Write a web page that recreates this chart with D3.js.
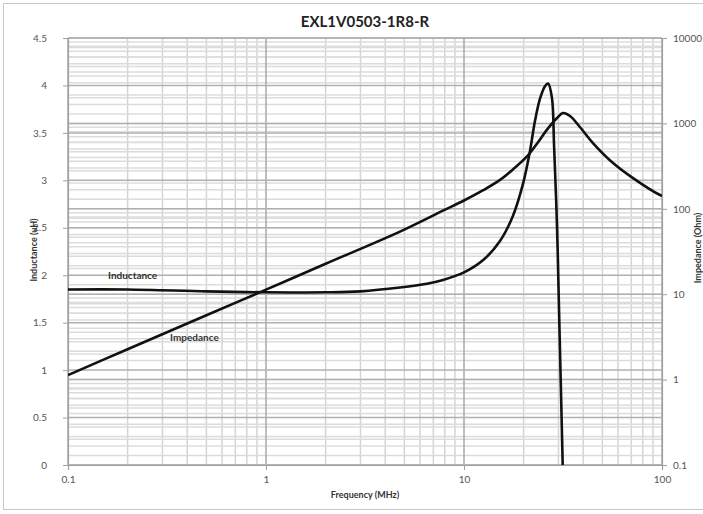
<!DOCTYPE html>
<html><head><meta charset="utf-8">
<script src="https://cdn.jsdelivr.net/npm/d3@7"></script>
<style>body{margin:0;background:#fff}svg{display:block}text{font-family:Lato,"Open Sans",sans-serif}</style>
</head><body>
<svg id="c" width="703" height="514"></svg>
<script>
const title = "EXL1V0503-1R8-R";
const xTicks = [0.1, 1, 10, 100];
const leftTicks = [0, 0.5, 1, 1.5, 2, 2.5, 3, 3.5, 4, 4.5];
const rightTicks = [0.1, 1, 10, 100, 1000, 10000];
// Inductance (uH) vs frequency (MHz)
const indFreq = [0.1, 0.2, 0.5, 1, 2, 3, 4.75, 6.5, 7.83, 10, 12.5, 15.2, 17.7, 19.9, 21.5, 22.8, 24.2, 25.6, 26.6, 27.8, 28.5, 29.5, 30.2, 31.6];
const indVal  = [1.85, 1.85, 1.83, 1.82, 1.82, 1.83, 1.87, 1.91, 1.95, 2.03, 2.16, 2.36, 2.63, 2.97, 3.3, 3.62, 3.86, 3.99, 4.02, 3.87, 3.37, 2.51, 1.63, -0.1];
// Impedance (Ohm) vs frequency (MHz)
const impFreq = [0.1, 0.2, 0.5, 1, 2, 4.75, 7.83, 10, 12.5, 15.2, 17.7, 20.8, 23.5, 26.2, 29.5, 31.6, 34.3, 38.5, 44.8, 56.6, 71.4, 97.7, 100];
const impVal  = [1.13, 2.27, 5.67, 11.3, 22.7, 54, 95, 125, 165, 218, 290, 410, 590, 840, 1157, 1323, 1222, 907, 589, 344, 229, 145, 142];
const indLabel = "Inductance", impLabel = "Impedance";

const svg = d3.select("#c");
const L = 68, R = 662, T = 38, B = 465;
const x = d3.scaleLog().domain([0.1, 100]).range([L, R]);
const yL = d3.scaleLinear().domain([0, 4.5]).range([B, T]);
const yR = d3.scaleLog().domain([0.1, 10000]).range([B, T]);

svg.append("rect").attr("x", 3.5).attr("y", 3.5).attr("width", 710).attr("height", 506)
  .attr("fill", "none").attr("stroke", "#c8c8c8");

const g = svg.append("g");
const minorX = [];
for (let d = 0.1; d < 100; d *= 10) for (let k = 2; k <= 9; k++) minorX.push(d * k);
g.selectAll(".vx").data(minorX).join("line")
  .attr("x1", d => x(d)).attr("x2", d => x(d)).attr("y1", T).attr("y2", B)
  .attr("stroke", "#d4d4d4").attr("stroke-width", 1.5);
const minorYL = d3.range(0, 46).map(i => i / 10).filter(v => Math.abs(v * 2 - Math.round(v * 2)) > 1e-6);
g.selectAll(".hl").data(minorYL).join("line")
  .attr("x1", L).attr("x2", R).attr("y1", d => yL(d)).attr("y2", d => yL(d))
  .attr("stroke", "#dcdcdc").attr("stroke-width", 1.5);
const minorYR = [];
for (let d = 0.1; d < 10000; d *= 10) for (let k = 2; k <= 9; k++) minorYR.push(d * k);
g.selectAll(".hr").data(minorYR).join("line")
  .attr("x1", L).attr("x2", R).attr("y1", d => yR(d)).attr("y2", d => yR(d))
  .attr("stroke", "#dcdcdc").attr("stroke-width", 1.5);
g.selectAll(".mx").data(xTicks).join("line")
  .attr("x1", d => x(d)).attr("x2", d => x(d)).attr("y1", T).attr("y2", B)
  .attr("stroke", "#a8a8a8").attr("stroke-width", 1.5);
g.selectAll(".ml").data(leftTicks).join("line")
  .attr("x1", L).attr("x2", R).attr("y1", d => yL(d)).attr("y2", d => yL(d))
  .attr("stroke", "#b0b0b0").attr("stroke-width", 1.5);
g.selectAll(".mr").data(rightTicks).join("line")
  .attr("x1", L).attr("x2", R).attr("y1", d => yR(d)).attr("y2", d => yR(d))
  .attr("stroke", "#b0b0b0").attr("stroke-width", 1.5);

const fmt = d => String(d);
const axL = svg.append("g").attr("transform", `translate(${L},0)`)
  .call(d3.axisLeft(yL).tickValues(leftTicks).tickFormat(fmt).tickSize(5).tickPadding(16));
const axR = svg.append("g").attr("transform", `translate(${R},0)`)
  .call(d3.axisRight(yR).tickValues(rightTicks).tickFormat(fmt).tickSize(5).tickPadding(6));
const axB = svg.append("g").attr("transform", `translate(0,${B})`)
  .call(d3.axisBottom(x).tickValues(xTicks).tickFormat(fmt).tickSize(5).tickPadding(6));
[axL, axR, axB].forEach(a => {
  a.selectAll("path").attr("stroke", "#a0a0a0").attr("stroke-width", 1.2);
  a.selectAll("line").attr("stroke", "#a0a0a0");
  a.selectAll("text").attr("fill", "#555").style("font-size", "10px").style("font-family", "Lato,sans-serif");
});

svg.append("clipPath").attr("id", "clip").append("rect")
  .attr("x", L).attr("y", T - 5).attr("width", R - L).attr("height", B - T + 5);

const curve = d3.curveCatmullRom.alpha(0.5);
const lineInd = d3.line().x(d => x(d[0])).y(d => yL(d[1])).curve(curve);
const lineImp = d3.line().x(d => x(d[0])).y(d => yR(d[1])).curve(curve);
const cg = svg.append("g").attr("clip-path", "url(#clip)");
cg.append("path").datum(d3.zip(indFreq, indVal)).attr("d", lineInd)
  .attr("fill", "none").attr("stroke", "#111").attr("stroke-width", 2.6);
cg.append("path").datum(d3.zip(impFreq, impVal)).attr("d", lineImp)
  .attr("fill", "none").attr("stroke", "#111").attr("stroke-width", 2.6);

svg.append("text").attr("x", 108).attr("y", 279).text(indLabel)
  .style("font-size", "10px").style("font-weight", "bold").attr("fill", "#333");
svg.append("text").attr("x", 170).attr("y", 341).text(impLabel)
  .style("font-size", "10px").style("font-weight", "bold").attr("fill", "#333");
svg.append("text").attr("x", 365).attr("y", 27).attr("text-anchor", "middle").text(title)
  .style("font-size", "15px").style("font-weight", "bold").attr("fill", "#222");
svg.append("text").attr("x", 365).attr("y", 498).attr("text-anchor", "middle").text("Frequency (MHz)")
  .style("font-size", "9px").style("font-weight", "bold").attr("fill", "#333");
svg.append("text").attr("transform", "translate(37,250) rotate(-90)").attr("text-anchor", "middle")
  .text("Inductance (uH)").style("font-size", "9px").style("font-weight", "bold").attr("fill", "#333");
svg.append("text").attr("transform", "translate(701,248) rotate(-90)").attr("text-anchor", "middle")
  .text("Impedance (Ohm)").style("font-size", "9px").style("font-weight", "bold").attr("fill", "#333");
</script>
</body></html>
